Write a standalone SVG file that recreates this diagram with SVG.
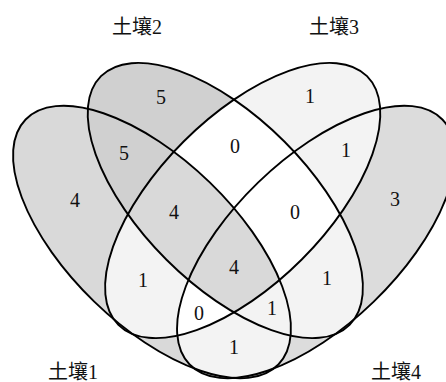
<svg xmlns="http://www.w3.org/2000/svg" xmlns:xlink="http://www.w3.org/1999/xlink" width="446" height="382" viewBox="0 0 446 382">
  <style>
    .outline { fill: none; stroke: #000; stroke-width: 1.9; }
    .num { font-family: "Liberation Serif", "Times New Roman", serif; font-size: 20px; fill: #111; text-anchor: middle; }
    .lbl { font-family: "Liberation Serif", "Noto Sans CJK SC", serif; font-size: 20px; fill: #111; text-anchor: middle; }
    .c5 { fill: #d0d0d0; }
    .c4 { fill: #d9d9d9; }
    .c3 { fill: #dcdcdc; }
    .c1 { fill: #f3f3f3; }
    .c0 { fill: #ffffff; }
  </style>
  <defs>
    <ellipse id="eA" cx="152" cy="242" rx="176" ry="83" transform="rotate(44.1 152 242)"/>
    <ellipse id="eB" cx="225.3" cy="200.5" rx="175.8" ry="83.5" transform="rotate(45 225.3 200.5)"/>
    <ellipse id="eC" cx="242.7" cy="200.5" rx="175.8" ry="83.5" transform="rotate(-45 242.7 200.5)"/>
    <ellipse id="eD" cx="316" cy="242" rx="176" ry="83" transform="rotate(-44.1 316 242)"/>
    <clipPath id="cA"><use href="#eA"/></clipPath>
    <clipPath id="cB"><use href="#eB"/></clipPath>
    <clipPath id="cC"><use href="#eC"/></clipPath>
    <clipPath id="cD"><use href="#eD"/></clipPath>
  </defs>
  <rect width="446" height="382" fill="#fff"/>
  <g id="regions">
    <use href="#eA" class="c4"/>
    <use href="#eB" class="c5"/>
    <use href="#eC" class="c1"/>
    <use href="#eD" class="c3"/>
    <g clip-path="url(#cA)"><use href="#eB" class="c5"/></g>
    <g clip-path="url(#cA)"><use href="#eC" class="c1"/></g>
    <g clip-path="url(#cA)"><use href="#eD" class="c1"/></g>
    <g clip-path="url(#cB)"><use href="#eC" class="c0"/></g>
    <g clip-path="url(#cB)"><use href="#eD" class="c1"/></g>
    <g clip-path="url(#cC)"><use href="#eD" class="c1"/></g>
    <g clip-path="url(#cA)"><g clip-path="url(#cB)"><use href="#eC" class="c4"/></g></g>
    <g clip-path="url(#cA)"><g clip-path="url(#cB)"><use href="#eD" class="c1"/></g></g>
    <g clip-path="url(#cA)"><g clip-path="url(#cC)"><use href="#eD" class="c0"/></g></g>
    <g clip-path="url(#cB)"><g clip-path="url(#cC)"><use href="#eD" class="c0"/></g></g>
    <g clip-path="url(#cA)"><g clip-path="url(#cB)"><g clip-path="url(#cC)"><use href="#eD" class="c4"/></g></g></g>
  </g>
  <g id="set1">
    <use href="#eA" class="outline"/>
    <text class="lbl" x="73" y="379">土壤1</text>
  </g>
  <g id="set2">
    <use href="#eB" class="outline"/>
    <text class="lbl" x="137" y="34">土壤2</text>
  </g>
  <g id="set3">
    <use href="#eC" class="outline"/>
    <text class="lbl" x="334" y="34">土壤3</text>
  </g>
  <g id="set4">
    <use href="#eD" class="outline"/>
    <text class="lbl" x="396" y="379">土壤4</text>
  </g>
  <g id="connectors"/>
  <g id="counts">
    <text class="num" x="161" y="104">5</text>
    <text class="num" x="310" y="103">1</text>
    <text class="num" x="124" y="160">5</text>
    <text class="num" x="235" y="153">0</text>
    <text class="num" x="346" y="157">1</text>
    <text class="num" x="75" y="207">4</text>
    <text class="num" x="174" y="219">4</text>
    <text class="num" x="295" y="219">0</text>
    <text class="num" x="395" y="206">3</text>
    <text class="num" x="234" y="274">4</text>
    <text class="num" x="143" y="287">1</text>
    <text class="num" x="327" y="285">1</text>
    <text class="num" x="199" y="320">0</text>
    <text class="num" x="272" y="315">1</text>
    <text class="num" x="234" y="354">1</text>
  </g>
</svg>
